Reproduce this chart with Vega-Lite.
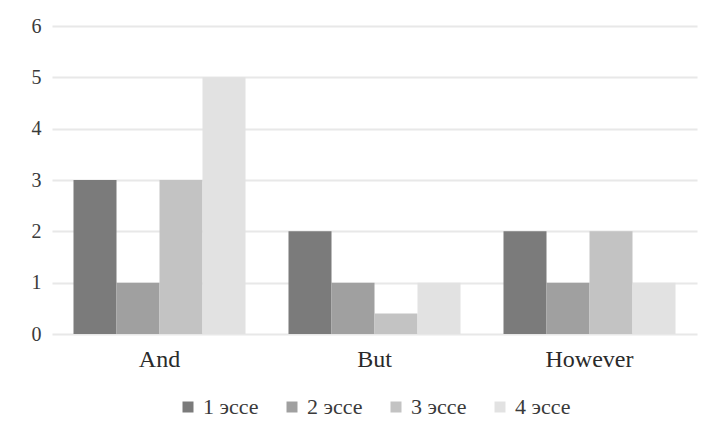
{
  "$schema": "https://vega.github.io/schema/vega-lite/v6.json",
  "autosize": "none",
  "width": 645,
  "height": 308,
  "padding": {"left": 52, "top": 26, "right": 8, "bottom": 99},
  "background": "white",
  "data": {
    "values": [
      {"word": "And", "essay": "1 эссе", "count": 3},
      {"word": "And", "essay": "2 эссе", "count": 1},
      {"word": "And", "essay": "3 эссе", "count": 3},
      {"word": "And", "essay": "4 эссе", "count": 5},
      {"word": "But", "essay": "1 эссе", "count": 2},
      {"word": "But", "essay": "2 эссе", "count": 1},
      {"word": "But", "essay": "3 эссе", "count": 0.4},
      {"word": "But", "essay": "4 эссе", "count": 1},
      {"word": "However", "essay": "1 эссе", "count": 2},
      {"word": "However", "essay": "2 эссе", "count": 1},
      {"word": "However", "essay": "3 эссе", "count": 2},
      {"word": "However", "essay": "4 эссе", "count": 1}
    ]
  },
  "mark": {"type": "bar"},
  "encoding": {
    "x": {
      "field": "word",
      "type": "nominal",
      "sort": ["And", "But", "However"],
      "scale": {"paddingInner": 0.2, "paddingOuter": 0.1},
      "axis": {
        "title": null,
        "labelAngle": 0,
        "labelFont": "Liberation Serif",
        "labelFontSize": 24,
        "labelColor": "#2a2a2a",
        "labelPadding": 13,
        "domain": false,
        "ticks": false
      }
    },
    "xOffset": {"field": "essay", "type": "nominal", "sort": ["1 эссе", "2 эссе", "3 эссе", "4 эссе"]},
    "y": {
      "field": "count",
      "type": "quantitative",
      "scale": {"domain": [0, 6], "nice": false},
      "axis": {
        "title": null,
        "values": [0, 1, 2, 3, 4, 5, 6],
        "labelOverlap": false,
        "labelFont": "Liberation Serif",
        "labelFontSize": 20,
        "labelColor": "#3a3a3a",
        "labelPadding": 11,
        "domain": false,
        "ticks": false,
        "grid": true,
        "gridColor": "#e8e8e8",
        "gridWidth": 2
      }
    },
    "color": {
      "field": "essay",
      "type": "nominal",
      "sort": ["1 эссе", "2 эссе", "3 эссе", "4 эссе"],
      "scale": {"range": ["#7b7b7b", "#a0a0a0", "#c3c3c3", "#e2e2e2"]},
      "legend": {
        "title": null,
        "orient": "none",
        "direction": "horizontal",
        "legendX": 125,
        "legendY": 370,
        "symbolType": "square",
        "symbolSize": 121,
        "symbolStrokeWidth": 0,
        "labelFont": "Liberation Serif",
        "labelFontSize": 22,
        "labelColor": "#3a3a3a",
        "labelOffset": 4,
        "columnPadding": 22
      }
    }
  },
  "config": {
    "view": {"stroke": null}
  }
}
